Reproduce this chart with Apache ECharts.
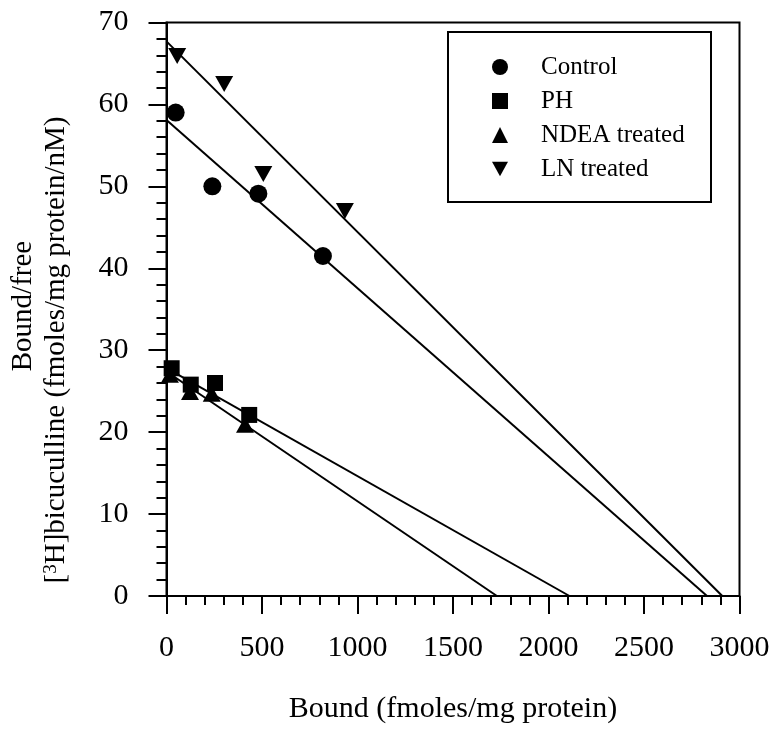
<!DOCTYPE html>
<html>
<head>
<meta charset="utf-8">
<script src="https://cdn.jsdelivr.net/npm/echarts@6/dist/echarts.min.js"></script>
<style>
html,body{margin:0;padding:0;background:#fff;}
#chart{width:774px;height:729px;}
</style>
</head>
<body>
<div id="chart"></div>
<script>
// ---- data ----
const seriesNames = ['Control', 'PH', 'NDEA treated', 'LN treated'];
const controlPts = [[48, 59.0], [240, 50.0], [481, 49.1], [819, 41.5]];
const phPts      = [[27, 27.8], [127, 25.8], [254, 26.0], [433, 22.1]];
const ndeaPts    = [[18, 27.0], [123, 24.9], [237, 24.7], [411, 20.9]];
const lnPts      = [[56, 65.9], [302, 62.5], [507, 51.5], [934, 47.0]];
// regression lines: [y-intercept, x-intercept]
const controlFit = [58.1, 2830];
const phFit      = [27.8, 2110];
const ndeaFit    = [27.4, 1730];
const lnFit      = [67.7, 2910];
const xTicks = [0, 500, 1000, 1500, 2000, 2500, 3000];
const yTicks = [0, 10, 20, 30, 40, 50, 60, 70];

const FONT = 'Liberation Serif';
const chart = echarts.init(document.getElementById('chart'), null, {renderer: 'canvas'});

function fitLine(f) { return [[0, f[0]], [f[1], 0]]; }

const scatterCommon = {
  type: 'scatter',
  itemStyle: {color: '#000', opacity: 1},
  emphasis: {disabled: true},
  z: 3
};
const lineCommon = {
  type: 'line',
  symbol: 'none',
  lineStyle: {color: '#000', width: 2},
  z: 2,
  silent: true
};
const downTri = 'path://M0,0 L20,0 L10,18 Z';

const option = {
  backgroundColor: '#fff',
  animation: false,
  grid: {
    left: 166.5, right: 34.5, top: 22.5, bottom: 131,
    show: true, borderColor: '#000', borderWidth: 2, backgroundColor: 'transparent'
  },
  xAxis: {
    type: 'value',
    min: xTicks[0], max: xTicks[xTicks.length - 1], interval: 500,
    name: 'Bound (fmoles/mg protein)',
    nameLocation: 'middle', nameGap: 98,
    nameTextStyle: {fontFamily: FONT, fontSize: 30, color: '#000'},
    axisLine: {show: true, onZero: false, lineStyle: {color: '#000', width: 2}},
    axisTick: {show: true, inside: false, length: 18, lineStyle: {color: '#000', width: 2}},
    minorTick: {show: true, splitNumber: 5, length: 9, lineStyle: {color: '#000', width: 2}},
    splitLine: {show: false},
    axisLabel: {fontFamily: FONT, fontSize: 30, color: '#000', margin: 37,
                formatter: function (v) { return String(v); }}
  },
  yAxis: {
    type: 'value',
    min: yTicks[0], max: yTicks[yTicks.length - 1], interval: 10,
    axisLine: {show: true, onZero: false, lineStyle: {color: '#000', width: 2}},
    axisTick: {show: true, inside: false, length: 18, lineStyle: {color: '#000', width: 2}},
    minorTick: {show: true, splitNumber: 5, length: 10, lineStyle: {color: '#000', width: 2}},
    splitLine: {show: false},
    axisLabel: {fontFamily: FONT, fontSize: 30, color: '#000', margin: 38,
                formatter: function (v) { return String(v); }}
  },
  legend: {
    data: [
      {name: seriesNames[0], icon: 'circle'},
      {name: seriesNames[1], icon: 'rect'},
      {name: seriesNames[2], icon: 'triangle'},
      {name: seriesNames[3], icon: downTri}
    ],
    orient: 'vertical',
    left: 492, top: 50,
    padding: 0,
    itemWidth: 16, itemHeight: 16,
    itemGap: 0,
    textStyle: {fontFamily: FONT, fontSize: 25, color: '#000', lineHeight: 34, padding: [0, 0, 0, 28]},
    itemStyle: {color: '#000', opacity: 1}
  },
  graphic: [
    {
      type: 'rect', shape: {x: 448, y: 32, width: 263, height: 170},
      style: {fill: 'none', stroke: '#000', lineWidth: 2}, z: 10, silent: true
    },
    {
      type: 'text', x: 23, y: 306, rotation: Math.PI / 2,
      style: {text: 'Bound/free', font: '29px "Liberation Serif"', fill: '#000',
              align: 'center', verticalAlign: 'middle'}
    },
    {
      type: 'text', x: 56, y: 350, rotation: Math.PI / 2,
      style: {
        text: '[{sup|3}H]bicuculline (fmoles/mg protein/nM)',
        fontFamily: FONT, fontSize: 29, fill: '#000',
        align: 'center', verticalAlign: 'middle',
        rich: {sup: {fontFamily: FONT, fontSize: 19, verticalAlign: 'top', lineHeight: 19, fill: '#000'}}
      }
    }
  ],
  series: [
    Object.assign({}, scatterCommon, {name: seriesNames[0], data: controlPts, symbol: 'circle', symbolSize: 18}),
    Object.assign({}, scatterCommon, {name: seriesNames[1], data: phPts, symbol: 'rect', symbolSize: 16}),
    Object.assign({}, scatterCommon, {name: seriesNames[2], data: ndeaPts, symbol: 'triangle', symbolSize: [18, 16]}),
    Object.assign({}, scatterCommon, {name: seriesNames[3], data: lnPts, symbol: 'triangle', symbolRotate: 180, symbolSize: [18, 16]}),
    Object.assign({}, lineCommon, {name: 'fit-control', data: fitLine(controlFit)}),
    Object.assign({}, lineCommon, {name: 'fit-ph', data: fitLine(phFit)}),
    Object.assign({}, lineCommon, {name: 'fit-ndea', data: fitLine(ndeaFit)}),
    Object.assign({}, lineCommon, {name: 'fit-ln', data: fitLine(lnFit)})
  ]
};
chart.setOption(option);
</script>
</body>
</html>
